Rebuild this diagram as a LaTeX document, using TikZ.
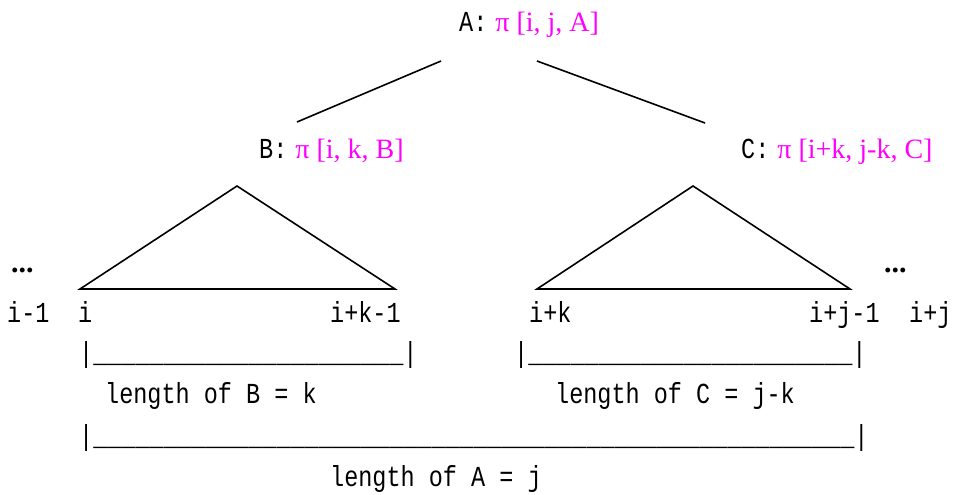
\documentclass[tikz,border=0pt]{standalone}
\usepackage{fontspec}
\setmainfont{Liberation Serif}
\newfontfamily\monof[FakeStretch=0.81]{Liberation Mono}
\definecolor{pimag}{RGB}{255,0,255}
\newcommand{\pfont}{\color{pimag}\fontspec{Liberation Serif}\fontsize{28}{30}\selectfont}
\tikzset{
  mtext/.style={anchor=base west, inner sep=0pt, font=\monof\fontsize{29}{31}\selectfont},
  dots/.style={anchor=base west, inner sep=0pt, font=\bfseries\fontsize{30}{32}\selectfont},
  edge/.style={line width=1.6pt},
  tri/.style={line width=1.6pt, line join=miter}
}
\newcommand{\us}[1]{\foreach \n in {1,...,#1}{\_}}
\begin{document}
\begin{tikzpicture}[x=1pt,y=-1pt]
\useasboundingbox (0,0) rectangle (953,495);
% tree nodes
\node[mtext] (A) at (459,32) {A:\hspace{8pt}{\pfont π [i, j, A]}};
\node[mtext] (B) at (259,158) {B:\hspace{8pt}{\pfont π [i, k, B]}};
\node[mtext] (C) at (741,158) {C:\hspace{8pt}{\pfont π [i+k, j-k, C]}};
% connector endpoints
\coordinate (a1) at (441,61);
\coordinate (b1) at (297,122);
\coordinate (a2) at (537,61);
\coordinate (c1) at (705,123);
\draw[edge] (a1) -- (b1);
\draw[edge] (a2) -- (c1);
% triangles
\coordinate (tb) at (237,186);
\coordinate (tbl) at (80,289);
\coordinate (tbr) at (395,289);
\coordinate (tc) at (693,186);
\coordinate (tcl) at (537,289);
\coordinate (tcr) at (850,289);
\draw[tri] (tb) -- (tbl) -- (tbr) -- cycle;
\draw[tri] (tc) -- (tcl) -- (tcr) -- cycle;
% dots
\node[dots] (d1) at (11,272) {...};
\node[dots] (d2) at (884,272) {...};
% index labels
\node[mtext] (l1) at (7,322) {i-1};
\node[mtext] (l2) at (78,322) {i};
\node[mtext] (l3) at (330,322) {i+k-1};
\node[mtext] (l4) at (529,322) {i+k};
\node[mtext] (l5) at (809,322) {i+j-1};
\node[mtext] (l6) at (909,322) {i+j};
% bars
\node[mtext] (bar1) at (79,362) {|\us{22}|};
\node[mtext] (bar2) at (514,362) {|\us{23}|};
\node[mtext] (bar3) at (79,445) {|\us{54}|};
% lengths
\node[mtext] (lenB) at (105,403) {length of B = k};
\node[mtext] (lenC) at (555,403) {length of C = j-k};
\node[mtext] (lenA) at (330,486) {length of A = j};
\end{tikzpicture}
\end{document}
